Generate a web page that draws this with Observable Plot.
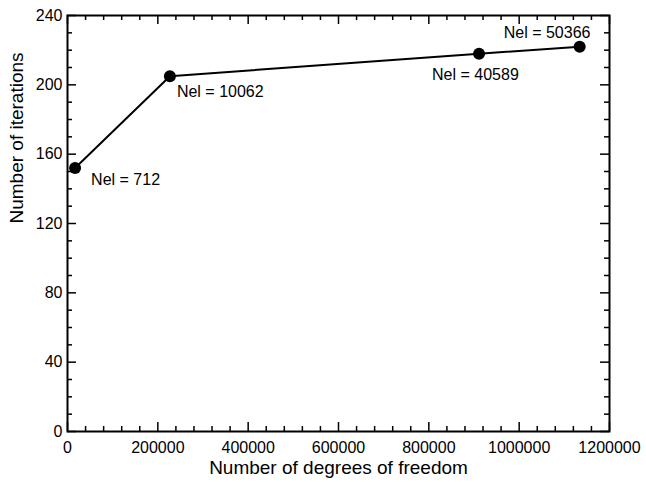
<!DOCTYPE html>
<html><head><meta charset="utf-8">
<script src="https://cdn.jsdelivr.net/npm/d3@7"></script>
<script src="https://cdn.jsdelivr.net/npm/@observablehq/plot@0.6"></script>
<style>body{margin:0;background:#fff} svg{display:block}</style>
</head><body><div id="chart"></div>
<script>
// Data
const dof = [16800, 226700, 911200, 1134000];
const iterations = [152, 205, 218, 222];
const nel = [712, 10062, 40589, 50366];

// Tick labels
const xTicks = [0, 200000, 400000, 600000, 800000, 1000000, 1200000];
const yTicks = [0, 40, 80, 120, 160, 200, 240];
const xMinorTicks = [40000,80000,120000,160000,240000,280000,320000,360000,440000,480000,520000,560000,640000,680000,720000,760000,840000,880000,920000,960000,1040000,1080000,1120000,1160000];
const yMinorTicks = [10,20,30,50,60,70,90,100,110,130,140,150,170,180,190,210,220,230];

// Label offsets (style only)
const labelDx = [16, 7, -47, -76];
const labelDy = [12, 16, 21, -14];

const data = dof.map((d, i) => ({dof: d, it: iterations[i], label: `Nel = ${nel[i]}`, i}));

const W = 646, H = 482;
const mL = 67, mR = 37, mT = 15, mB = 51;
const innerH = H - mT - mB, innerW = W - mL - mR;
const majorLen = 9, minorLen = 5;

const tickMarks = (vals, len, axis) => axis === "x"
  ? [Plot.tickX(vals, {x: d => d, stroke: "black", strokeWidth: 1.5, insetTop: innerH - len}),
     Plot.tickX(vals, {x: d => d, stroke: "black", strokeWidth: 1.5, insetBottom: innerH - len})]
  : [Plot.tickY(vals, {y: d => d, stroke: "black", strokeWidth: 1.5, insetRight: innerW - len}),
     Plot.tickY(vals, {y: d => d, stroke: "black", strokeWidth: 1.5, insetLeft: innerW - len})];

const chart = Plot.plot({
  width: W, height: H,
  marginLeft: mL, marginRight: mR, marginTop: mT, marginBottom: mB,
  style: {fontFamily: "'Liberation Sans', Arial, sans-serif", fontSize: "16px", color: "black", background: "white"},
  x: {domain: [0, 1200000]},
  y: {domain: [0, 240]},
  marks: [
    ...tickMarks(xTicks, majorLen, "x"),
    ...tickMarks(xMinorTicks, minorLen, "x"),
    ...tickMarks(yTicks, majorLen, "y"),
    ...tickMarks(yMinorTicks, minorLen, "y"),
    Plot.frame({stroke: "black", strokeWidth: 2}),
    Plot.axisX({ticks: xTicks, tickSize: 0, tickPadding: 10, tickFormat: d3.format("d"), fontSize: 16, letterSpacing: 0.5, label: null}),
    Plot.axisY({ticks: yTicks, tickSize: 0, tickPadding: 5, tickFormat: d3.format("d"), fontSize: 16, letterSpacing: 0.5, label: null}),
    Plot.text(["Number of degrees of freedom"], {frameAnchor: "bottom", dy: 42, fontSize: 19, letterSpacing: 0.7, text: d => d}),
    Plot.text(["Number of iterations"], {frameAnchor: "left", dx: -51, rotate: -90, fontSize: 19, letterSpacing: 0.6, text: d => d}),
    Plot.line(data, {x: "dof", y: "it", stroke: "black", strokeWidth: 2}),
    Plot.dot(data, {x: "dof", y: "it", r: 6, fill: "black"}),
    ...data.map((d, i) => Plot.text([d], {x: "dof", y: "it", text: "label", textAnchor: "start", dx: labelDx[i], dy: labelDy[i], fontSize: 16, letterSpacing: 0.6}))
  ]
});
document.getElementById("chart").appendChild(chart);
</script>
</body></html>
